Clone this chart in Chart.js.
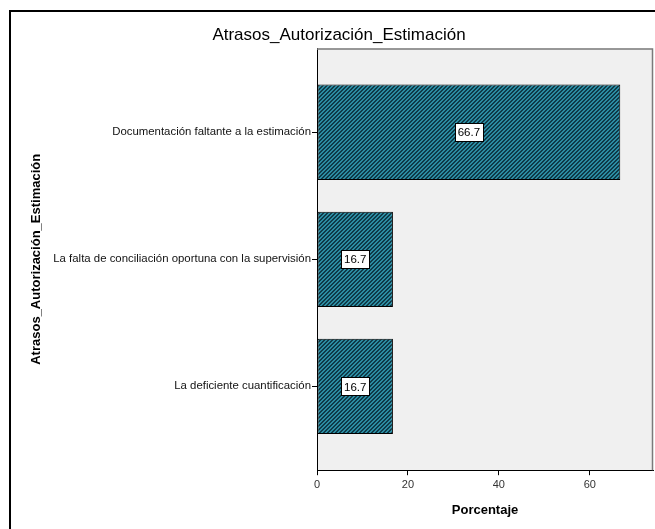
<!DOCTYPE html>
<html>
<head>
<meta charset="utf-8">
<script src="https://cdn.jsdelivr.net/npm/chart.js@4/dist/chart.umd.min.js"></script>
<style>
  html, body { margin: 0; padding: 0; background: #ffffff; overflow: hidden; }
  #wrap { position: relative; width: 655px; height: 529px; }
  #frame { position: absolute; left: 9px; top: 10px; width: 700px; height: 600px;
           border-left: 2px solid #000; border-top: 2px solid #000; pointer-events: none; }
  canvas { position: absolute; left: 0; top: 0; }
</style>
</head>
<body>
<div id="wrap">
  <canvas id="c" width="655" height="529"></canvas>
  <div id="frame"></div>
</div>
<script>
const chartTitle = 'Atrasos_Autorización_Estimación';
const categories = [
  'Documentación faltante a la estimación',
  'La falta de conciliación oportuna con la supervisión',
  'La deficiente cuantificación'
];
const percentages = [66.7, 16.7, 16.7];
const xTickValues = [0, 20, 40, 60];
const xAxisTitle = 'Porcentaje';
const yAxisTitle = 'Atrasos_Autorización_Estimación';

const FONT = "'Liberation Sans', Arial, sans-serif";

function makeHatch() {
  const t = document.createElement('canvas');
  t.width = 4; t.height = 4;
  const g = t.getContext('2d');
  g.fillStyle = '#2b8ca2';
  g.fillRect(0, 0, 4, 4);
  g.fillStyle = '#0f3a48';
  for (let i = 0; i < 4; i++) {
    g.fillRect(3 - i, i, 1, 1);
    g.fillRect((4 - i) % 4, i, 1, 1);
  }
  return document.getElementById('c').getContext('2d').createPattern(t, 'repeat');
}

const plotBg = {
  id: 'plotBg',
  beforeDraw(chart) {
    const { ctx, chartArea: a } = chart;
    ctx.save();
    ctx.fillStyle = '#f0f0f0';
    ctx.fillRect(a.left, a.top, a.right - a.left, a.bottom - a.top);
    ctx.restore();
  },
  afterDraw(chart) {
    const { ctx, chartArea: a } = chart;
    ctx.save();
    ctx.strokeStyle = '#7a7a7a';
    ctx.lineWidth = 1.5;
    ctx.beginPath();
    ctx.moveTo(a.left, a.top + 0.5);
    ctx.lineTo(a.right - 0.5, a.top + 0.5);
    ctx.lineTo(a.right - 0.5, a.bottom);
    ctx.stroke();
    ctx.restore();
  }
};

const barLabels = {
  id: 'barLabels',
  afterDatasetsDraw(chart) {
    const { ctx } = chart;
    const meta = chart.getDatasetMeta(0);
    ctx.save();
    ctx.font = '11.5px ' + FONT;
    ctx.textAlign = 'center';
    ctx.textBaseline = 'middle';
    meta.data.forEach((bar, i) => {
      const txt = percentages[i].toFixed(1);
      const cx = (bar.x + bar.base) / 2;
      const cy = bar.y;
      const w = Math.round(ctx.measureText(txt).width + 6);
      const h = 18;
      const bx = Math.round(cx - w / 2) + 0.5, by = Math.round(cy - h / 2) + 0.5;
      ctx.fillStyle = '#ffffff';
      ctx.fillRect(bx, by, w, h);
      ctx.strokeStyle = '#000000';
      ctx.lineWidth = 1;
      ctx.strokeRect(bx, by, w, h);
      ctx.fillStyle = '#000000';
      ctx.fillText(txt, cx, cy + 1);
    });
    ctx.restore();
  }
};

new Chart(document.getElementById('c'), {
  type: 'bar',
  data: {
    datasets: [{
      data: percentages.map((v, i) => ({ x: v, y: i })),
      backgroundColor: makeHatch(),
      borderColor: '#000000',
      borderWidth: 1,
      borderSkipped: false,
      barPercentage: 0.75,
      categoryPercentage: 1.0
    }]
  },
  options: {
    indexAxis: 'y',
    responsive: false,
    animation: false,
    layout: { padding: { left: 25, right: 2, top: 0, bottom: 1 } },
    plugins: {
      legend: { display: false },
      tooltip: { enabled: false },
      title: {
        display: true,
        text: chartTitle,
        color: '#000000',
        font: { family: FONT, size: 17, weight: 'normal' },
        padding: { top: 25, bottom: 3 }
      }
    },
    scales: {
      x: {
        type: 'linear',
        position: 'bottom',
        min: 0,
        max: 73.9,
        offset: false,
        afterBuildTicks(scale) { scale.ticks = xTickValues.map(v => ({ value: v })); },
        ticks: {
          color: '#333333',
          font: { family: FONT, size: 11 },
          padding: 3,
          maxRotation: 0
        },
        grid: { display: true, offset: false, drawOnChartArea: false, drawTicks: true, tickLength: 5, color: '#000000' },
        border: { display: true, color: '#000000', width: 1 },
        title: {
          display: true,
          text: xAxisTitle,
          color: '#000000',
          font: { family: FONT, size: 13, weight: 'bold' },
          padding: { top: 8, bottom: 10 }
        }
      },
      y: {
        type: 'linear',
        reverse: true,
        min: -0.66,
        max: 2.66,
        offset: false,
        afterBuildTicks(scale) { scale.ticks = categories.map((c, i) => ({ value: i })); },
        afterFit(scale) { scale.width = 292; },
        ticks: {
          color: '#111111',
          font: { family: FONT, size: 11.4 },
          padding: 1,
          callback: (v) => categories[v]
        },
        grid: { display: true, offset: false, drawOnChartArea: false, drawTicks: true, tickLength: 5, color: '#000000' },
        border: { display: true, color: '#000000', width: 1 },
        title: {
          display: true,
          text: yAxisTitle,
          color: '#000000',
          font: { family: FONT, size: 13, weight: 'bold' },
          padding: { top: 4, bottom: 4 }
        }
      }
    }
  },
  plugins: [plotBg, barLabels]
});
</script>
</body>
</html>
